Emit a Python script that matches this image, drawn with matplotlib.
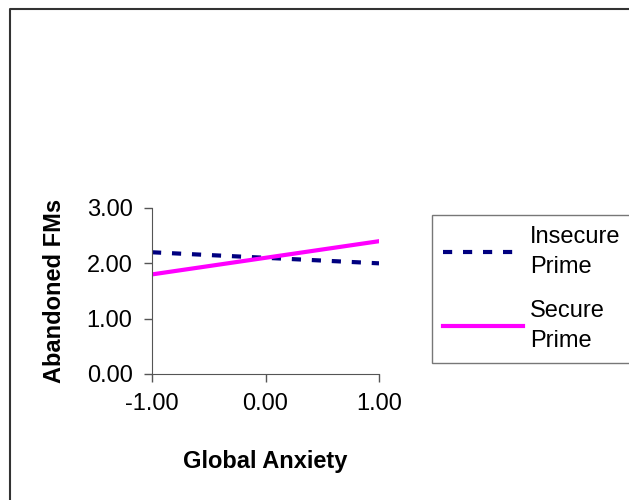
import matplotlib
matplotlib.use('Agg')
import matplotlib.pyplot as plt
from matplotlib.lines import Line2D

plt.rcParams['font.family'] = ['Liberation Sans', 'DejaVu Sans']

# datos
anxiety = [-1.0, 0.0, 1.0]
insecure = [2.20, 2.10, 2.00]
secure = [1.80, 2.10, 2.40]
yticks = [0.0, 1.0, 2.0, 3.0]
xticks = [-1.0, 0.0, 1.0]

fig = plt.figure(figsize=(6.29, 5.0), dpi=100)

# marco exterior (solo se ve arriba y a la izquierda)
fig.add_artist(Line2D([10/629, 10/629, 1.0], [0.0, 1 - 9/500, 1 - 9/500],
                      transform=fig.transFigure, color='#333333', lw=1.5))

ax = fig.add_axes([152/629, 1 - 374/500, 227/629, 166/500])
ax.plot(anxiety, insecure, color='#000080', lw=3, ls=(0, (2.2, 2.6)), label='Insecure\nPrime')
ax.plot(anxiety, secure, color='#ff00ff', lw=3, label='Secure\nPrime')

ax.set_xlim(-1, 1)
ax.set_ylim(0, 3)
ax.set_xticks(xticks)
ax.set_yticks(yticks)
ax.set_xticklabels(['{:.2f}'.format(v) for v in xticks])
ax.set_yticklabels(['{:.2f}'.format(v) for v in yticks])
ax.tick_params(direction='out', length=6, width=1, color='#555555', labelsize=17, pad=8)
for s in ['top', 'right']:
    ax.spines[s].set_visible(False)
for s in ['left', 'bottom']:
    ax.spines[s].set_color('#555555')
ax.set_xlabel('Global Anxiety', fontsize=17, fontweight='bold', labelpad=25)
ax.set_ylabel('Abandoned FMs', fontsize=17, fontweight='bold', labelpad=15)

leg = ax.legend(loc='center left', bbox_to_anchor=(432/629, 1 - 363/500, 0.4, 148/500),
                bbox_transform=fig.transFigure, fontsize=17, frameon=True, fancybox=False,
                handlelength=3.4, handletextpad=0.3, labelspacing=0.9, borderpad=0.45,
                borderaxespad=0, mode='expand')
for t in leg.get_texts():
    t.set_linespacing(1.5)
leg.get_frame().set_edgecolor('#555555')
leg.get_frame().set_linewidth(1)

plt.savefig('out.png')
plt.close()
